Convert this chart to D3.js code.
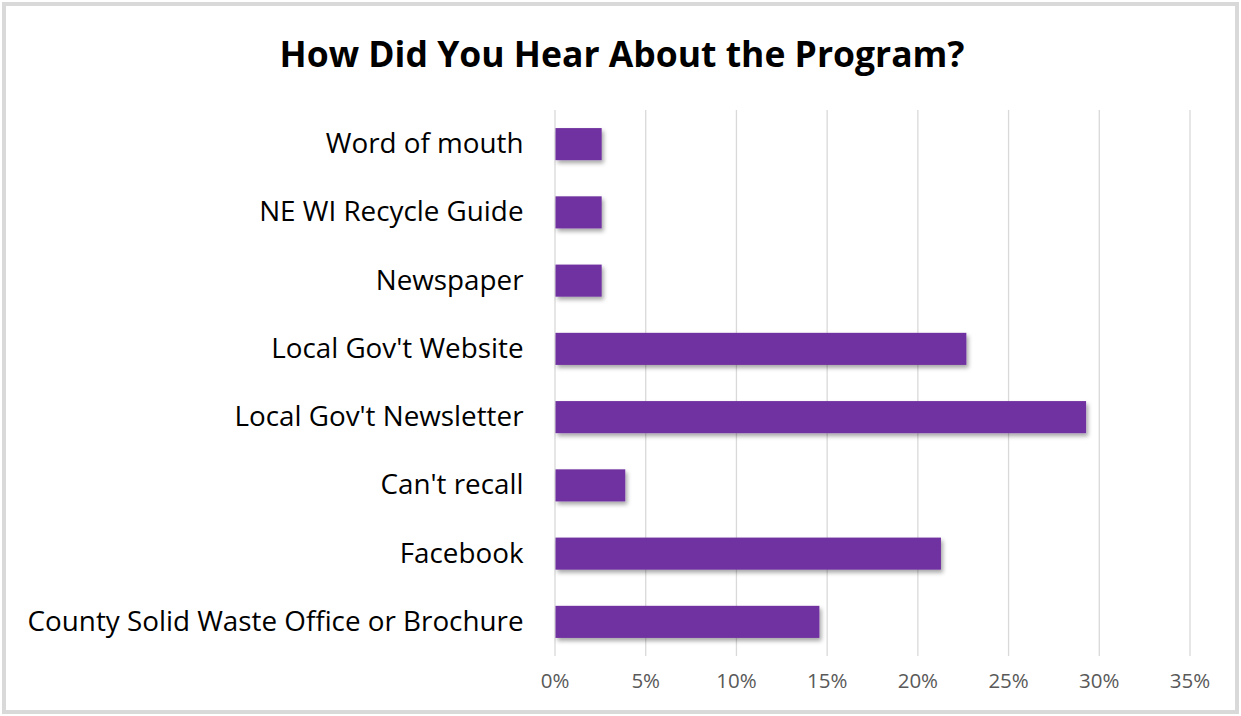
<!DOCTYPE html>
<html><head><meta charset="utf-8">
<script src="https://cdn.jsdelivr.net/npm/d3@7/dist/d3.min.js"></script>
<style>body{margin:0;background:#fff}svg{display:block}</style>
</head><body><svg id="c" width="1241" height="716"></svg>
<script>
const titleText = "How Did You Hear About the Program?";
const categories = ["Word of mouth","NE WI Recycle Guide","Newspaper","Local Gov't Website","Local Gov't Newsletter","Can't recall","Facebook","County Solid Waste Office or Brochure"];
const values = [2.6, 2.6, 2.6, 22.7, 29.3, 3.9, 21.3, 14.6];
const tickValues = [0,5,10,15,20,25,30,35];

const svg = d3.select("#c");
const defs = svg.append("defs");
const f = defs.append("filter").attr("id","sh").attr("x","-10%").attr("y","-30%").attr("width","130%").attr("height","180%");
f.append("feDropShadow").attr("dx",2).attr("dy",3).attr("stdDeviation",2).attr("flood-color","#000").attr("flood-opacity",0.35);

svg.append("rect").attr("x",4).attr("y",4).attr("width",1233).attr("height",708)
  .attr("fill","#fff").attr("stroke","#d9d9d9").attr("stroke-width",4);

const x = d3.scaleLinear().domain([0,35]).range([554.5,1189.5]);
const y = d3.scaleBand().domain(categories).range([110,656]).paddingInner(0.53).paddingOuter(0.265);

const FONT = "'Open Sans', sans-serif";

svg.append("text").attr("x",622).attr("y",67).attr("text-anchor","middle")
  .attr("font-family",FONT).attr("font-weight","bold").attr("font-size",35.5)
  .attr("fill","#000").text(titleText);

const gx = svg.append("g").attr("transform","translate(0,656)")
  .call(d3.axisBottom(x).tickValues(tickValues).tickSize(-546).tickFormat(d=>d+"%"));
gx.select(".domain").remove();
gx.selectAll(".tick line").attr("stroke","#d9d9d9").attr("stroke-width",1.3);
gx.selectAll(".tick text").attr("font-family",FONT).attr("font-size",20.5)
  .attr("fill","#595959").attr("dy","1.0em").attr("y",11);

svg.append("g").selectAll("rect").data(values).join("rect")
  .attr("x",x(0)+1).attr("y",(d,i)=>y(categories[i])).attr("height",y.bandwidth())
  .attr("width",d=>x(d)-x(0)-1).attr("fill","#7030a0").attr("filter","url(#sh)");

const gy = svg.append("g").attr("transform","translate(554.5,0)")
  .call(d3.axisLeft(y).tickSize(0).tickPadding(31));
gy.select(".domain").remove();
gy.selectAll(".tick text").attr("font-family",FONT).attr("font-size",27.8).attr("fill","#000");
</script></body></html>
